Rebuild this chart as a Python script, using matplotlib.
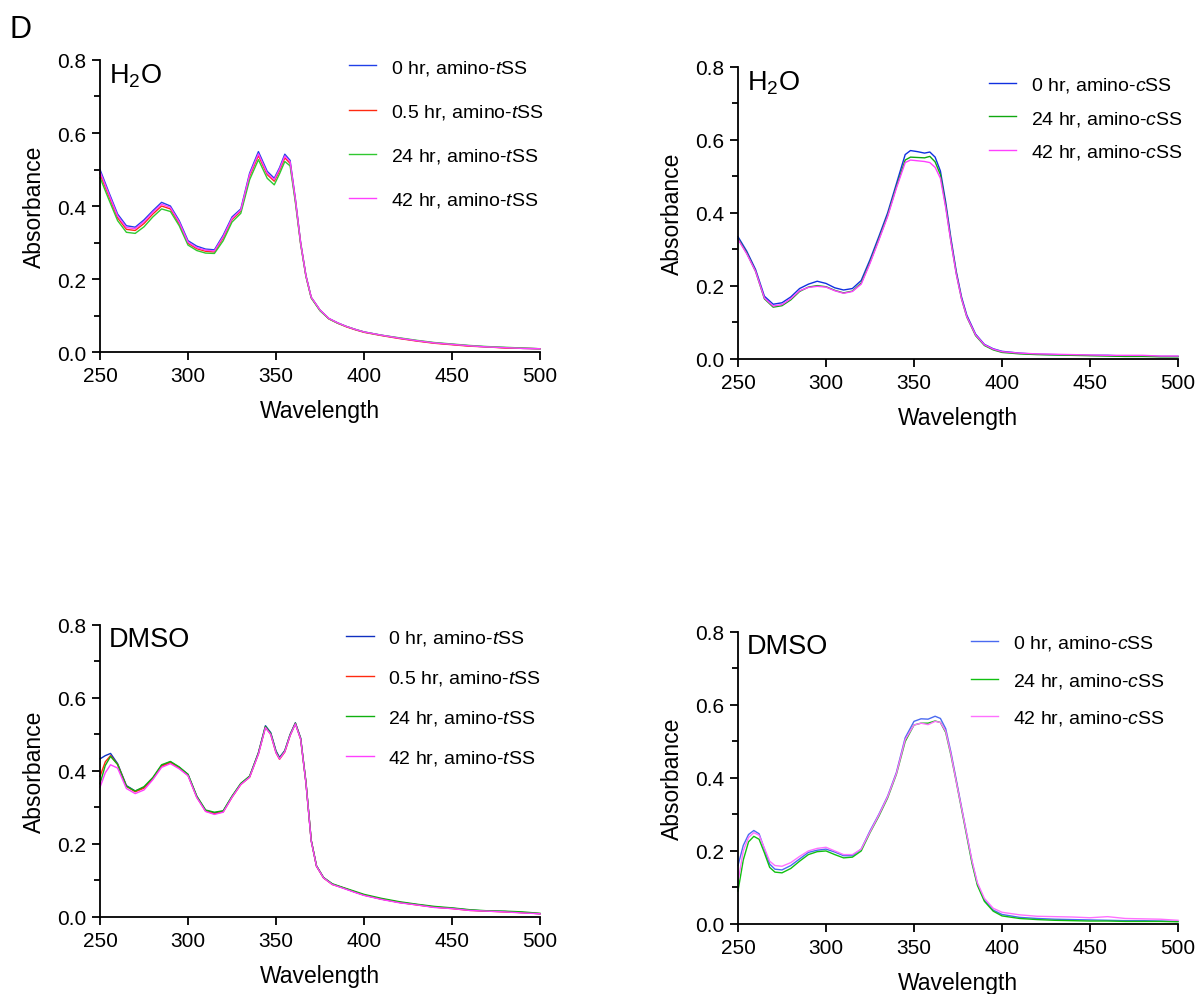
import matplotlib
matplotlib.use('Agg')
import matplotlib.pyplot as plt
from matplotlib.ticker import MultipleLocator

plt.rcParams['font.family'] = ['Liberation Sans', 'DejaVu Sans']
plt.rcParams['mathtext.fontset'] = 'custom'
plt.rcParams['mathtext.rm'] = 'Liberation Sans'
plt.rcParams['mathtext.it'] = 'Liberation Sans:italic'

# ---- H2O, amino-tSS ----
wl_t_h2o = [250, 255, 260, 265, 270, 275, 280, 285, 290, 295, 300, 305, 310, 315, 320, 325, 330, 335,
            340, 345, 349, 352, 355, 358, 361, 364, 367, 370, 375, 380, 385, 390, 395, 400,
            410, 420, 430, 440, 450, 460, 470, 480, 490, 500]
t_h2o_0 = [0.500, 0.438, 0.378, 0.346, 0.342, 0.362, 0.387, 0.410, 0.400, 0.360, 0.305, 0.290, 0.282, 0.280,
           0.320, 0.370, 0.392, 0.490, 0.549, 0.495, 0.476, 0.505, 0.542, 0.525, 0.420, 0.300, 0.210, 0.150,
           0.115, 0.092, 0.080, 0.070, 0.062, 0.055, 0.046, 0.038, 0.031, 0.025, 0.021, 0.017, 0.014, 0.012,
           0.010, 0.009]
t_h2o_05 = [0.488, 0.428, 0.368, 0.336, 0.333, 0.352, 0.378, 0.400, 0.392, 0.352, 0.298, 0.283, 0.276, 0.274,
            0.313, 0.363, 0.386, 0.482, 0.538, 0.486, 0.468, 0.497, 0.532, 0.517, 0.415, 0.297, 0.208, 0.149,
            0.114, 0.091, 0.079, 0.069, 0.061, 0.054, 0.045, 0.037, 0.030, 0.024, 0.020, 0.016, 0.014, 0.011,
            0.010, 0.009]
t_h2o_24 = [0.478, 0.418, 0.360, 0.328, 0.325, 0.343, 0.370, 0.392, 0.385, 0.346, 0.293, 0.278, 0.271, 0.270,
            0.305, 0.356, 0.380, 0.472, 0.527, 0.476, 0.458, 0.488, 0.522, 0.510, 0.410, 0.295, 0.207, 0.148,
            0.113, 0.091, 0.079, 0.070, 0.062, 0.055, 0.046, 0.039, 0.032, 0.026, 0.022, 0.018, 0.015, 0.013,
            0.011, 0.009]
t_h2o_42 = [0.494, 0.433, 0.373, 0.341, 0.338, 0.357, 0.383, 0.405, 0.396, 0.356, 0.301, 0.286, 0.279, 0.277,
            0.316, 0.366, 0.389, 0.486, 0.543, 0.490, 0.472, 0.501, 0.537, 0.521, 0.418, 0.298, 0.209, 0.150,
            0.115, 0.092, 0.080, 0.070, 0.062, 0.055, 0.046, 0.038, 0.031, 0.025, 0.021, 0.017, 0.014, 0.012,
            0.010, 0.009]

# ---- H2O, amino-cSS ----
wl_c_h2o = [250, 255, 260, 265, 270, 275, 280, 285, 290, 295, 300, 305, 310, 315, 320, 325, 330, 335, 340,
            345, 348, 352, 356, 359, 362, 365, 368, 371, 374, 377, 380, 385, 390, 395, 400,
            410, 420, 430, 440, 450, 460, 470, 480, 490, 500]
c_h2o_0 = [0.335, 0.295, 0.245, 0.172, 0.150, 0.154, 0.170, 0.193, 0.205, 0.213, 0.207, 0.195, 0.189, 0.193,
           0.215, 0.272, 0.335, 0.400, 0.480, 0.560, 0.571, 0.568, 0.564, 0.567, 0.553, 0.515, 0.430, 0.330,
           0.240, 0.170, 0.120, 0.068, 0.040, 0.028, 0.021, 0.016, 0.013, 0.012, 0.011, 0.010, 0.010, 0.008,
           0.008, 0.007, 0.007]
c_h2o_24 = [0.330, 0.290, 0.240, 0.165, 0.142, 0.146, 0.162, 0.185, 0.197, 0.201, 0.198, 0.188, 0.181, 0.186,
            0.208, 0.265, 0.328, 0.393, 0.472, 0.545, 0.553, 0.552, 0.551, 0.555, 0.540, 0.505, 0.420, 0.322,
            0.235, 0.165, 0.115, 0.064, 0.037, 0.025, 0.018, 0.014, 0.012, 0.011, 0.010, 0.009, 0.008, 0.007,
            0.007, 0.006, 0.006]
c_h2o_42 = [0.328, 0.288, 0.240, 0.167, 0.145, 0.149, 0.165, 0.187, 0.196, 0.199, 0.197, 0.187, 0.180, 0.185,
            0.205, 0.262, 0.325, 0.390, 0.468, 0.538, 0.545, 0.543, 0.541, 0.538, 0.525, 0.495, 0.415, 0.320,
            0.233, 0.165, 0.116, 0.066, 0.039, 0.027, 0.020, 0.016, 0.014, 0.013, 0.012, 0.011, 0.010, 0.010,
            0.010, 0.008, 0.008]

# ---- DMSO, amino-tSS ----
wl_t_dmso = [250, 253, 256, 260, 265, 270, 275, 280, 285, 290, 295, 300, 305, 310, 315, 320, 325, 330, 335,
             340, 344, 347, 350, 352, 355, 358, 361, 364, 367, 370, 373, 377, 382, 388, 395, 400,
             410, 420, 430, 440, 450, 460, 470, 480, 490, 500]
t_dmso_0 = [0.433, 0.442, 0.448, 0.420, 0.360, 0.345, 0.355, 0.380, 0.415, 0.425, 0.410, 0.390, 0.330, 0.292,
            0.285, 0.290, 0.330, 0.365, 0.385, 0.450, 0.524, 0.505, 0.455, 0.437, 0.456, 0.500, 0.532, 0.490,
            0.370, 0.210, 0.140, 0.108, 0.090, 0.080, 0.068, 0.060, 0.049, 0.040, 0.034, 0.027, 0.024, 0.019,
            0.016, 0.015, 0.012, 0.009]
t_dmso_05 = [0.385, 0.425, 0.442, 0.418, 0.358, 0.343, 0.353, 0.379, 0.413, 0.423, 0.408, 0.388, 0.328, 0.290,
             0.283, 0.288, 0.328, 0.363, 0.383, 0.447, 0.520, 0.500, 0.450, 0.432, 0.452, 0.497, 0.530, 0.487,
             0.368, 0.209, 0.139, 0.107, 0.089, 0.080, 0.068, 0.060, 0.049, 0.040, 0.033, 0.027, 0.023, 0.018,
             0.016, 0.014, 0.012, 0.009]
t_dmso_24 = [0.365, 0.415, 0.440, 0.418, 0.358, 0.345, 0.357, 0.382, 0.417, 0.426, 0.411, 0.391, 0.331, 0.293,
             0.287, 0.291, 0.331, 0.366, 0.386, 0.449, 0.522, 0.503, 0.453, 0.435, 0.455, 0.499, 0.531, 0.489,
             0.369, 0.210, 0.140, 0.108, 0.091, 0.081, 0.070, 0.062, 0.051, 0.042, 0.035, 0.029, 0.025, 0.020,
             0.017, 0.016, 0.014, 0.010]
t_dmso_42 = [0.355, 0.395, 0.417, 0.408, 0.352, 0.338, 0.348, 0.376, 0.410, 0.420, 0.406, 0.387, 0.327, 0.289,
             0.281, 0.287, 0.328, 0.363, 0.383, 0.446, 0.519, 0.500, 0.450, 0.433, 0.453, 0.497, 0.529, 0.487,
             0.367, 0.208, 0.139, 0.107, 0.089, 0.079, 0.067, 0.059, 0.048, 0.039, 0.033, 0.026, 0.023, 0.018,
             0.016, 0.014, 0.011, 0.009]

# ---- DMSO, amino-cSS ----
wl_c_dmso = [250, 253, 256, 259, 262, 265, 268, 271, 275, 280, 285, 290, 295, 300, 305, 310, 315, 320, 325,
             330, 335, 340, 345, 350, 354, 358, 362, 365, 368, 371, 374, 377, 380, 383, 386, 390, 395, 400,
             410, 420, 430, 440, 450, 460, 470, 480, 490, 500]
c_dmso_0 = [0.160, 0.215, 0.245, 0.256, 0.247, 0.205, 0.164, 0.150, 0.148, 0.160, 0.178, 0.196, 0.202, 0.205,
            0.197, 0.187, 0.187, 0.205, 0.255, 0.300, 0.350, 0.415, 0.510, 0.555, 0.562, 0.561, 0.569, 0.563,
            0.535, 0.470, 0.395, 0.320, 0.245, 0.170, 0.110, 0.065, 0.038, 0.026, 0.018, 0.015, 0.013, 0.012,
            0.011, 0.010, 0.009, 0.009, 0.008, 0.007]
c_dmso_24 = [0.090, 0.175, 0.225, 0.240, 0.232, 0.195, 0.155, 0.142, 0.140, 0.152, 0.172, 0.190, 0.198, 0.200,
             0.190, 0.181, 0.183, 0.200, 0.250, 0.295, 0.345, 0.410, 0.500, 0.545, 0.550, 0.550, 0.556, 0.552,
             0.525, 0.462, 0.390, 0.315, 0.240, 0.165, 0.106, 0.062, 0.035, 0.022, 0.015, 0.012, 0.010, 0.009,
             0.008, 0.008, 0.007, 0.007, 0.007, 0.006]
c_dmso_42 = [0.115, 0.200, 0.237, 0.250, 0.243, 0.208, 0.172, 0.160, 0.158, 0.168, 0.185, 0.200, 0.207, 0.210,
             0.200, 0.190, 0.190, 0.205, 0.252, 0.298, 0.348, 0.412, 0.505, 0.545, 0.550, 0.546, 0.555, 0.552,
             0.528, 0.465, 0.390, 0.318, 0.245, 0.172, 0.113, 0.070, 0.043, 0.032, 0.025, 0.021, 0.020, 0.019,
             0.017, 0.020, 0.015, 0.014, 0.013, 0.010]

labels_t = ['0 hr, amino-$\\it{t}$SS', '0.5 hr, amino-$\\it{t}$SS',
            '24 hr, amino-$\\it{t}$SS', '42 hr, amino-$\\it{t}$SS']
labels_c = ['0 hr, amino-$\\it{c}$SS', '24 hr, amino-$\\it{c}$SS', '42 hr, amino-$\\it{c}$SS']


def style_axes(ax):
    ax.set_xlim(250, 500)
    ax.set_ylim(0, 0.8)
    ax.set_xticks([250, 300, 350, 400, 450, 500])
    ax.set_yticks([0.0, 0.2, 0.4, 0.6, 0.8])
    ax.set_yticklabels(['0.0', '0.2', '0.4', '0.6', '0.8'])
    ax.yaxis.set_minor_locator(MultipleLocator(0.1))
    ax.spines['top'].set_visible(False)
    ax.spines['right'].set_visible(False)
    ax.spines['left'].set_linewidth(1.3)
    ax.spines['bottom'].set_linewidth(1.3)
    ax.tick_params(axis='both', which='major', direction='out', length=6, width=1.3,
                   labelsize=15, pad=4)
    ax.tick_params(axis='y', which='minor', direction='out', length=4, width=1.3)
    ax.set_xlabel('Wavelength', fontsize=16.5, labelpad=10)
    ax.set_ylabel('Absorbance', fontsize=16.5, labelpad=8)


def draw_panel(ax, wl, series, colors, labels, solvent, leg_anchor, spacing):
    for y, c, lab in zip(series, colors, labels):
        ax.plot(wl, y, color=c, lw=1.0, label=lab, clip_on=False)
    style_axes(ax)
    ax.text(0.02, 0.995, solvent, transform=ax.transAxes, fontsize=19.5, va='top', ha='left')
    ax.legend(loc='upper left', bbox_to_anchor=leg_anchor, frameon=False, fontsize=14,
              handlelength=1.4, handletextpad=0.75, labelspacing=spacing, borderpad=0,
              borderaxespad=0)


fig = plt.figure(figsize=(11.99, 9.95), dpi=100)

ax1 = fig.add_axes([0.0834, 0.6452, 0.367, 0.2935])
draw_panel(ax1, wl_t_h2o, [t_h2o_0, t_h2o_05, t_h2o_24, t_h2o_42],
           ['#2040e8', '#ff2a10', '#30c830', '#ff40ff'], labels_t, 'H$_2$O', (0.566, 1.008), 1.3)

ax2 = fig.add_axes([0.6155, 0.6382, 0.367, 0.2935])
draw_panel(ax2, wl_c_h2o, [c_h2o_0, c_h2o_24, c_h2o_42],
           ['#1030e0', '#10a810', '#ff40ff'], labels_c, 'H$_2$O', (0.57, 0.972), 0.74)

ax3 = fig.add_axes([0.0834, 0.0774, 0.367, 0.2935])
draw_panel(ax3, wl_t_dmso, [t_dmso_0, t_dmso_05, t_dmso_24, t_dmso_42],
           ['#1030c0', '#ff2a10', '#10b010', '#ff40ff'], labels_t, 'DMSO', (0.56, 0.99), 1.08)

ax4 = fig.add_axes([0.6155, 0.0704, 0.367, 0.2935])
draw_panel(ax4, wl_c_dmso, [c_dmso_0, c_dmso_24, c_dmso_42],
           ['#4a6af0', '#10c010', '#ff70ff'], labels_c, 'DMSO', (0.53, 0.995), 0.95)

fig.text(0.008, 0.985, 'D', fontsize=22, va='top', ha='left')

fig.savefig('out.png', dpi=100)
